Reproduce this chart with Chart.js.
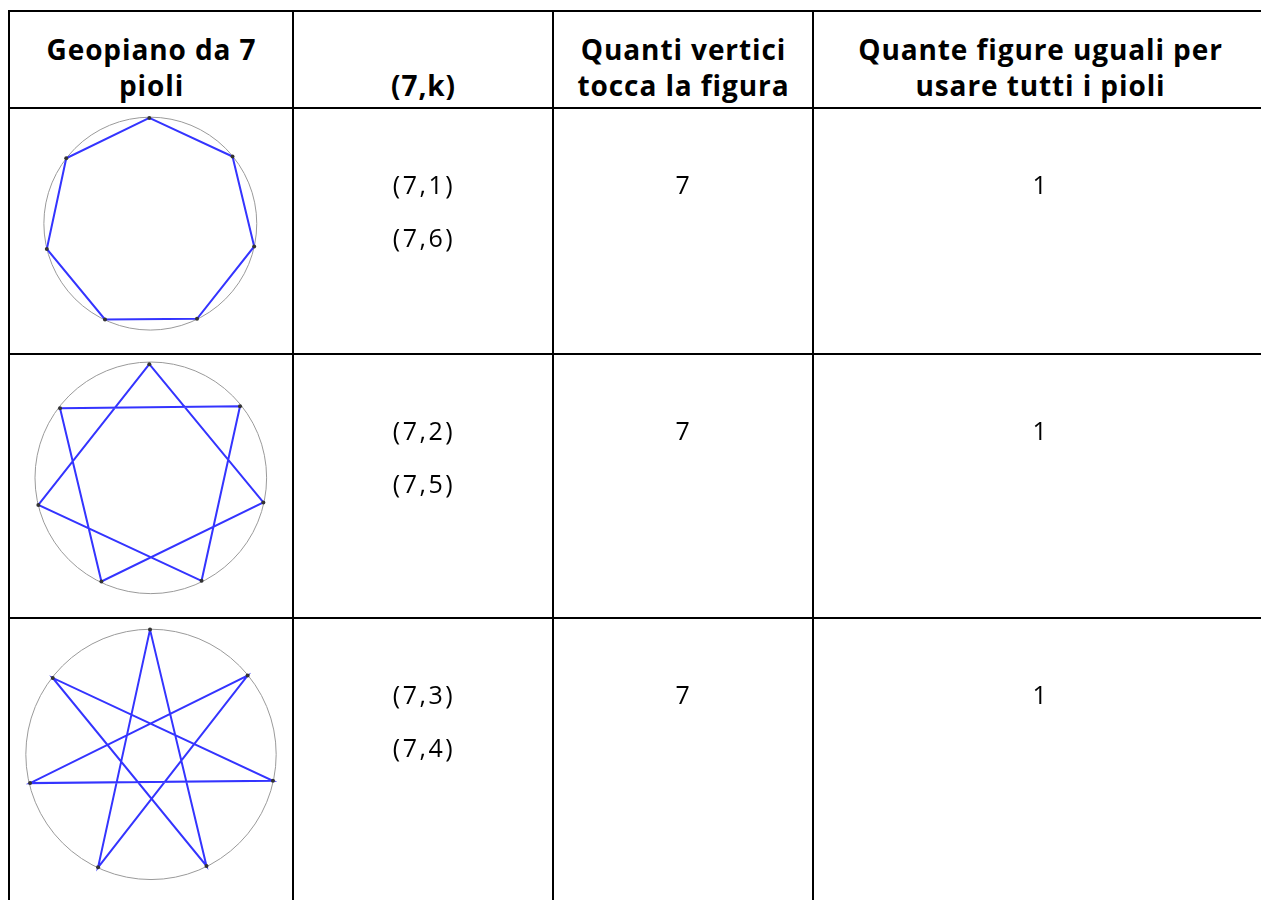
<!DOCTYPE html>
<html>
<head>
<meta charset="utf-8">
<title>Geopiano da 7 pioli</title>
<script src="https://cdn.jsdelivr.net/npm/chart.js@4.4.1/dist/chart.umd.min.js"></script>
<style>
  html, body { margin: 0; padding: 0; background: #fff; overflow: hidden; }
  #table {
    position: absolute; left: 8px; top: 10px;
    display: grid;
    grid-template-columns: 284px 260px 260px 454px;
    grid-template-rows: 97px 246px 264px 300px;
    border-left: 2px solid #000; border-top: 2px solid #000;
  }
  .cell { box-sizing: border-box; border-right: 2px solid #000; border-bottom: 2px solid #000; text-align: center; color: #000; }
  .head {
    display: flex; flex-direction: column; justify-content: flex-end;
    font-family: "Open Sans", sans-serif; font-weight: bold; font-size: 28px; line-height: 36px;
    letter-spacing: 0.9px; padding: 0 0 4px 1px;
  }
  .txt { font-family: "Open Sans", sans-serif; font-weight: 500; font-size: 25px; letter-spacing: 2.5px; padding: 60px 0 0 2px; }
  .txt p { margin: 0 0 23px 0; line-height: 30px; }
  .fig canvas { display: block; }
</style>
</head>
<body>
<div id="table"></div>

<script>
// header texts, one entry per line
const headers = [
  ["Geopiano da 7", "pioli"],
  ["(7,k)"],
  ["Quanti vertici", "tocca la figura"],
  ["Quante figure uguali per", "usare tutti i pioli"]
];

const pairs = [["(7,1)", "(7,6)"], ["(7,2)", "(7,5)"], ["(7,3)", "(7,4)"]];
const verticesTouched = [7, 7, 7];
const figuresNeeded = [1, 1, 1];

// pegs, clockwise from the top one, circle centre at (0,0), y up
const pegs1X = [-1, 83.4, 105.4, 47.4, -46, -105, -85.3];
const pegs1Y = [107.5, 68.2, -23.2, -96.8, -97.5, -25.8, 66.5];
const pegs2X = [-1.5, 90.5, 114.2, 51.5, -50.1, -114.1, -92.1];
const pegs2Y = [115.4, 72.7, -25, -104.6, -105.3, -27.6, 70.7];
const pegs3X = [-1, 98, 123.7, 56.3, -53.7, -122.7, -99.7];
const pegs3Y = [126.5, 79.9, -26.8, -113.1, -114.5, -29.1, 77.5];
const circleR = [108, 117.5, 127];

// order in which the rubber band goes round the pegs
const path1 = [0, 1, 2, 3, 4, 5, 6, 0];
const path2 = [0, 5, 3, 1, 6, 4, 2, 0];
const path3 = [0, 3, 6, 2, 5, 1, 4, 0];

// ---------------- table ----------------
const table = document.getElementById("table");
const rowHeights = [244, 262, 298];
const centres = [[140.3, 114.5], [140.8, 122.7], [141, 135.2]];
const edge = 2; // chart.js keeps this much room round the area for the peg dots

headers.forEach(lines => {
  const c = document.createElement("div");
  c.className = "cell head";
  c.innerHTML = lines.map(l => `<div>${l}</div>`).join("");
  table.appendChild(c);
});

pairs.forEach((pair, i) => {
  table.innerHTML +=
    `<div class="cell fig"><canvas id="fig${i}" width="282" height="${rowHeights[i]}"></canvas></div>
     <div class="cell txt">${pair.map(p => `<p>${p}</p>`).join("")}</div>
     <div class="cell txt"><p>${verticesTouched[i]}</p></div>
     <div class="cell txt"><p>${figuresNeeded[i]}</p></div>`;
});

// the geoboard circle, drawn from the scales before the datasets
const ringPlugin = {
  id: 'ring',
  beforeDatasetsDraw(chart, args, opts) {
    const x = chart.scales.x, y = chart.scales.y;
    const c = chart.ctx;
    c.save();
    c.beginPath();
    c.arc(x.getPixelForValue(0), y.getPixelForValue(0),
      x.getPixelForValue(opts.r) - x.getPixelForValue(0), 0, 2 * Math.PI);
    c.strokeStyle = '#9a9a9a';
    c.lineWidth = 1;
    c.stroke();
    c.restore();
  }
};

// ---------------- figures ----------------
function drawFigure(id, xs, ys, path, r, centre, h) {
  const cx = centre[0], cy = centre[1];
  new Chart(document.getElementById(id), {
    type: 'scatter',
    data: {
      datasets: [
        {
          data: xs.map((x, i) => ({ x: x, y: ys[i] })),
          pointRadius: 2,
          pointBackgroundColor: '#333',
          pointBorderWidth: 0,
          borderWidth: 0,
          clip: false,
          order: 0
        },
        {
          data: path.map(i => ({ x: xs[i], y: ys[i] })),
          showLine: true,
          borderColor: '#3434ff',
          borderWidth: 2,
          pointRadius: 0,
          clip: false,
          order: 1
        }
      ]
    },
    options: {
      responsive: false,
      animation: false,
      events: [],
      layout: { padding: 0 },
      plugins: { legend: { display: false }, tooltip: { enabled: false }, ring: { r: r } },
      scales: {
        x: { type: 'linear', display: false, min: -(cx - edge), max: 282 - edge - cx },
        y: { type: 'linear', display: false, min: -(h - edge - cy), max: cy - edge }
      }
    },
    plugins: [ringPlugin]
  });
}

drawFigure("fig0", pegs1X, pegs1Y, path1, circleR[0], centres[0], rowHeights[0]);
drawFigure("fig1", pegs2X, pegs2Y, path2, circleR[1], centres[1], rowHeights[1]);
drawFigure("fig2", pegs3X, pegs3Y, path3, circleR[2], centres[2], rowHeights[2]);
</script>
</body>
</html>
